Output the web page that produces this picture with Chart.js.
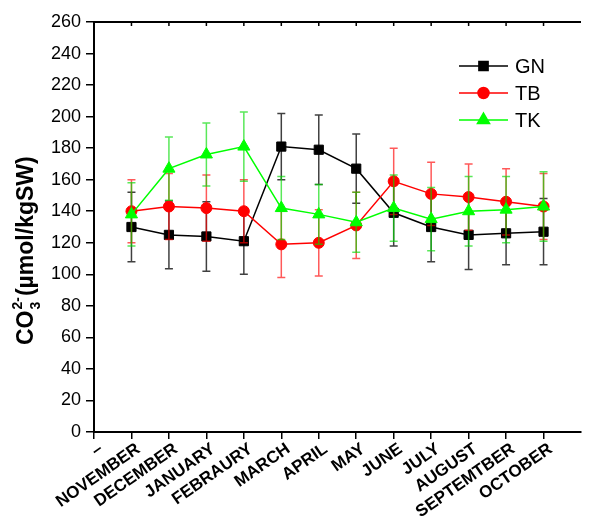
<!DOCTYPE html>
<html>
<head>
<meta charset="utf-8">
<script src="https://cdn.jsdelivr.net/npm/chart.js@4"></script>
<style>
  body { margin: 0; background: #fff; }
  canvas { display: block; }
</style>
</head>
<body>
<canvas id="chartCanvas" width="589" height="519"></canvas>
<script>
// ===== Data =====
const months = ['–', 'NOVEMBER', 'DECEMBER', 'JANUARY', 'FEBRAURY', 'MARCH', 'APRIL', 'MAY',
                'JUNE', 'JULY', 'AUGUST', 'SEPTEMTBER', 'OCTOBER'];
const monthIndex = [1, 2, 3, 4, 5, 6, 7, 8, 9, 10, 11, 12];

const gnValues = [130, 125, 124, 121, 181, 179, 167, 139, 130, 125, 126, 127];
const gnErrors = [22, 21.5, 22, 21, 21, 22, 22, 21, 22, 22, 20, 21];
const tbValues = [140, 143, 142, 140, 119, 120, 131, 159, 151, 149, 146, 143];
const tbErrors = [20, 21, 21, 20, 21, 21, 21, 21, 20, 21, 21, 21];
const tkValues = [138, 167, 176, 181, 142, 138, 133, 142, 135, 140, 141, 143];
const tkErrors = [20, 20, 20, 22, 20, 19, 19, 21, 20, 22, 21, 22];

const yTicks = { min: 0, max: 260, step: 20 };

const FONT = 'Arial, "Liberation Sans", Helvetica, sans-serif';

function points(values) {
    return values.map((v, i) => ({ x: monthIndex[i], y: v }));
}

function series(label, values, errors, color, barColor, style, radius, order) {
    return {
        label: label,
        data: points(values),
        errors: errors,
        barColor: barColor,
        borderColor: color,
        backgroundColor: color,
        borderWidth: 1.5,
        pointStyle: style,
        pointRadius: radius,
        pointBackgroundColor: color,
        pointBorderColor: color,
        pointBorderWidth: 1,
        tension: 0,
        order: order
    };
}

const datasets = [
    series('GN', gnValues, gnErrors, '#000000', 'rgba(0,0,0,0.75)', 'rect', 6.5, 3),
    series('TB', tbValues, tbErrors, '#ff0000', 'rgba(255,0,0,0.65)', 'circle', 5.5, 2),
    series('TK', tkValues, tkErrors, '#00ff00', 'rgba(0,220,0,0.65)', 'triangle', 7, 1)
];

// ===== Error bars, drawn under each series =====
const errorBars = {
    id: 'errorBars',
    beforeDatasetDraw(chart, args) {
        const ds = chart.data.datasets[args.index];
        const meta = args.meta;
        const y = chart.scales.y;
        const ctx = chart.ctx;
        ctx.save();
        ctx.strokeStyle = ds.barColor;
        ctx.lineWidth = 1.5;
        meta.data.forEach((pt, i) => {
            const v = ds.data[i].y, e = ds.errors[i];
            const top = y.getPixelForValue(v + e), bot = y.getPixelForValue(v - e);
            ctx.beginPath();
            ctx.moveTo(pt.x, top); ctx.lineTo(pt.x, bot);
            ctx.moveTo(pt.x - 4, top); ctx.lineTo(pt.x + 4, top);
            ctx.moveTo(pt.x - 4, bot); ctx.lineTo(pt.x + 4, bot);
            ctx.stroke();
        });
        ctx.restore();
    }
};

// ===== Frame, legend and axis title =====
const decorations = {
    id: 'decorations',
    afterDraw(chart) {
        const ctx = chart.ctx;
        const area = chart.chartArea;
        const x = chart.scales.x;
        ctx.save();

        // top frame with inward ticks
        ctx.strokeStyle = '#000';
        ctx.lineWidth = 2;
        ctx.beginPath();
        ctx.moveTo(area.left - 1, area.top);
        ctx.lineTo(area.right, area.top);
        ctx.stroke();
        ctx.lineWidth = 1.5;
        ctx.beginPath();
        monthIndex.forEach(i => {
            const px = x.getPixelForValue(i);
            ctx.moveTo(px, area.top);
            ctx.lineTo(px, area.top + 4);
        });
        ctx.stroke();

        // legend
        const rows = [66, 93, 120];
        [0, 1, 2].forEach(k => {
            const ds = chart.data.datasets[k];
            const ly = rows[k];
            ctx.strokeStyle = ds.borderColor;
            ctx.lineWidth = 1.5;
            ctx.beginPath();
            ctx.moveTo(459, ly); ctx.lineTo(508, ly);
            ctx.stroke();
            ctx.fillStyle = ds.borderColor;
            Chart.helpers.drawPoint(ctx, {
                pointStyle: ds.pointStyle, radius: ds.pointRadius, rotation: 0, borderWidth: 1
            }, 483.5, ly);
            ctx.fillStyle = '#000';
            ctx.font = '20px ' + FONT;
            ctx.textBaseline = 'middle';
            ctx.textAlign = 'left';
            ctx.fillText(ds.label, 515, ly + 1);
        });

        // y axis title with sub/superscript
        ctx.translate(33, 345);
        ctx.rotate(-Math.PI / 2);
        ctx.fillStyle = '#000';
        ctx.textBaseline = 'alphabetic';
        ctx.textAlign = 'left';
        ctx.font = 'bold 23px ' + FONT;
        ctx.fillText('CO', 0, 0);
        let w = ctx.measureText('CO').width + 1;
        ctx.font = 'bold 14px ' + FONT;
        ctx.fillText('3', w, 7);
        ctx.fillText('2-', w, -11);
        w += Math.max(ctx.measureText('3').width, ctx.measureText('2-').width) + 1;
        ctx.font = 'bold 23px ' + FONT;
        ctx.fillText('(µmol/kgSW)', w, 0);

        ctx.restore();
    }
};

new Chart(document.getElementById('chartCanvas').getContext('2d'), {
    type: 'line',
    data: { datasets: datasets },
    plugins: [errorBars, decorations],
    options: {
        responsive: false,
        animation: false,
        layout: { padding: { top: 22, right: 0, left: 0, bottom: 0 } },
        plugins: { legend: { display: false }, tooltip: { enabled: false } },
        scales: {
            x: {
                type: 'linear',
                min: 0,
                max: 13,
                afterBuildTicks: s => { s.ticks = months.map((m, i) => ({ value: i })); },
                afterFit: s => { s.height = 87; },
                ticks: {
                    callback: v => months[v],
                    autoSkip: false,
                    maxRotation: 35,
                    minRotation: 35,
                    padding: 0,
                    labelOffset: 7,
                    color: '#000',
                    font: { family: FONT, size: 17, weight: 'bold' }
                },
                grid: { drawOnChartArea: false, tickLength: 7, color: '#000', lineWidth: 1.5 },
                border: { color: '#000', width: 2 }
            },
            y: {
                min: yTicks.min,
                max: yTicks.max,
                afterFit: s => { s.width = 94; },
                ticks: {
                    stepSize: yTicks.step,
                    padding: 5,
                    color: '#000',
                    font: { family: FONT, size: 18 }
                },
                grid: { drawOnChartArea: false, tickLength: 8, color: '#000', lineWidth: 1.5 },
                border: { color: '#000', width: 2 }
            }
        }
    }
});
</script>
</body>
</html>
